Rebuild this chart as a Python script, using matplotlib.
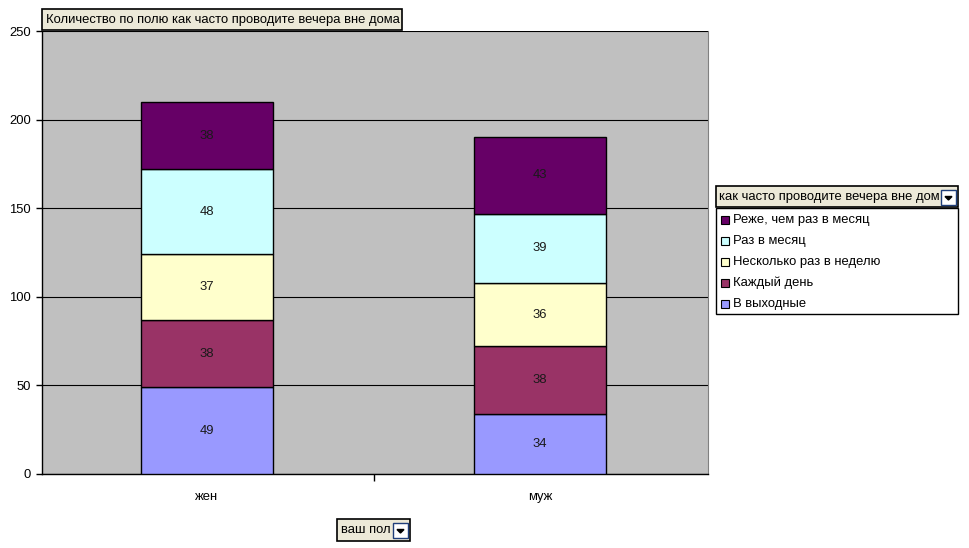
import numpy as np
import matplotlib.pyplot as plt
from matplotlib.patches import Rectangle, Polygon

plt.rcParams['font.family'] = ['Liberation Sans', 'DejaVu Sans']

genders = ['жен', 'муж']
series = ['В выходные', 'Каждый день', 'Несколько раз в неделю', 'Раз в месяц', 'Реже, чем раз в месяц']
v_weekend = [49, 34]
v_daily = [38, 38]
v_several = [37, 36]
v_monthly = [48, 39]
v_rarely = [38, 43]
colors = ['#9999FF', '#993366', '#FFFFCC', '#CCFFFF', '#660066']

values = [v_weekend, v_daily, v_several, v_monthly, v_rarely]
FS = 9.4

W, H = 970, 548
fig = plt.figure(figsize=(W / 100, H / 100), dpi=100)
ax = fig.add_axes([42 / W, (H - 474) / H, 666 / W, 443 / H])
ax.set_facecolor('#C0C0C0')

x = np.arange(len(genders))
bottom = np.zeros(len(genders))
for vals, col in zip(values, colors):
    ax.bar(x, vals, width=0.396, bottom=bottom, color=col, edgecolor='black', linewidth=1, zorder=3)
    for xi, b, v in zip(x, bottom, vals):
        ax.text(xi, b + v / 2, str(v), ha='center', va='center', fontsize=FS, color='#1a1a1a', zorder=4)
    bottom += vals

ax.set_xlim(-0.4955, 1.5045)
ax.set_ylim(0, 250)
ax.set_yticks(range(0, 251, 50))
ax.yaxis.grid(True, color='black', linewidth=0.8, zorder=0)
ax.set_axisbelow(True)
ax.set_xticks(x)
ax.set_xticklabels(genders, fontsize=FS)
ax.tick_params(axis='x', length=0, pad=12)
ax.set_xticks([0.5], minor=True)
ax.tick_params(axis='x', which='minor', length=5, width=1, direction='out')
ax.tick_params(axis='y', length=4, width=1, direction='out', labelsize=FS, pad=4)
ax.spines['top'].set_visible(False)
ax.spines['right'].set_color('#808080')
ax.spines['left'].set_linewidth(1)
ax.spines['bottom'].set_linewidth(1)


def fx(px):
    return px / W


def fy(py):
    return 1 - py / H


def box(x0, y0, x1, y1, face='#ECE9D8', lw=1.2):
    fig.patches.append(Rectangle((fx(x0), fy(y1)), fx(x1 - x0), (y1 - y0) / H,
                                 transform=fig.transFigure, facecolor=face,
                                 edgecolor='black', linewidth=lw))


def dropdown(x0, y0):
    fig.patches.append(Rectangle((fx(x0), fy(y0 + 15)), fx(15), 15 / H,
                                 transform=fig.transFigure, facecolor='white',
                                 edgecolor='#1F3E7A', linewidth=1, zorder=5))
    cx, cy = x0 + 7.5, y0 + 8
    fig.patches.append(Polygon([(fx(cx - 3.5), fy(cy - 1.5)), (fx(cx + 3.5), fy(cy - 1.5)),
                                (fx(cx), fy(cy + 2))], closed=True, zorder=6,
                               transform=fig.transFigure, facecolor='black', edgecolor='black'))


# title box
box(42, 9, 402, 30)
fig.text(fx(46), fy(19.5), 'Количество по полю как часто проводите вечера вне дома',
         fontsize=FS, va='center', ha='left')

# legend header
box(716, 186, 958, 207)
fig.text(fx(719), fy(197), 'как часто проводите вечера вне дом', fontsize=FS, va='center', ha='left')
dropdown(941, 190)

# legend entries
box(716, 208, 958, 314, face='white', lw=1)
for i, (name, col) in enumerate(reversed(list(zip(series, colors)))):
    yy = 220 + i * 21
    fig.patches.append(Rectangle((fx(721), fy(yy + 4)), fx(8), 8 / H,
                                 transform=fig.transFigure, facecolor=col,
                                 edgecolor='black', linewidth=0.8))
    fig.text(fx(733), fy(yy), name, fontsize=FS, va='center', ha='left')

# x-axis field button
box(337, 519, 410, 541)
fig.text(fx(341), fy(530), 'ваш пол', fontsize=FS, va='center', ha='left')
dropdown(393, 523)

fig.savefig('out.png', dpi=100)
